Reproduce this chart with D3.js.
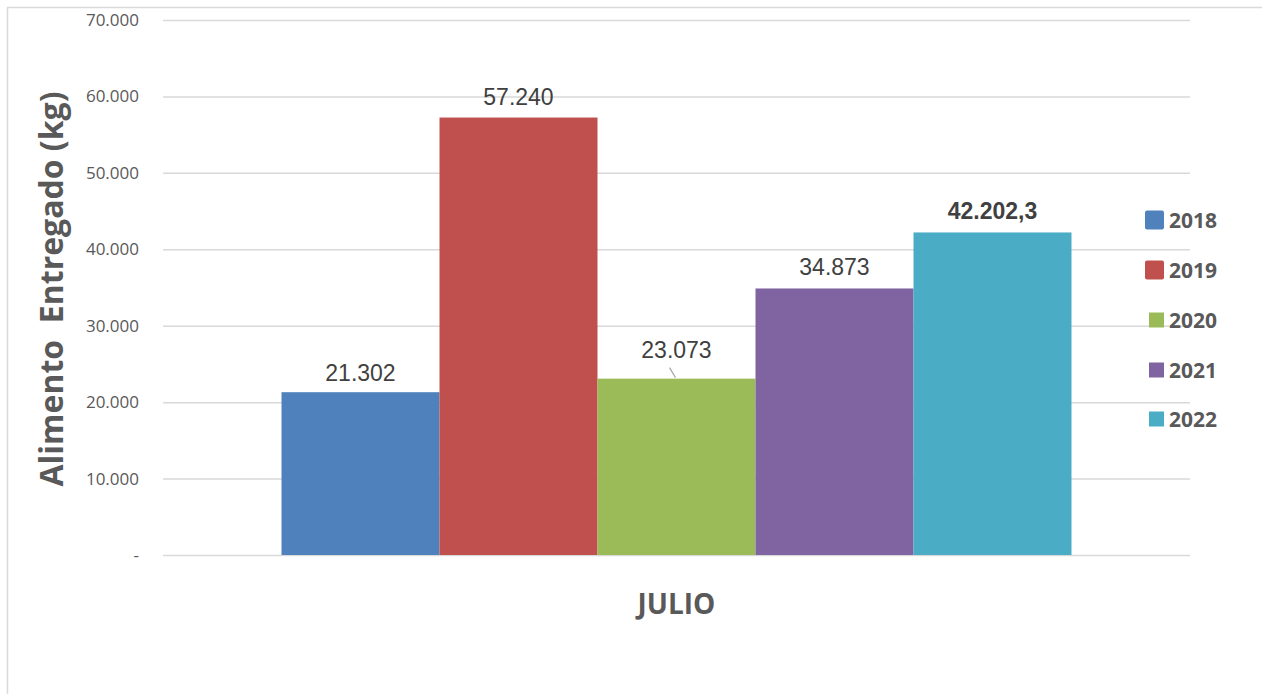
<!DOCTYPE html>
<html>
<head>
<meta charset="utf-8">
<script src="https://cdn.jsdelivr.net/npm/d3@7"></script>
<style>
  body { margin: 0; background: #fff; }
  svg { display: block; }
</style>
</head>
<body>
<div id="graphics"></div>
<script>
// data
var categories = ["JULIO"];
var years = ["2018", "2019", "2020", "2021", "2022"];
var values = [21302, 57240, 23073, 34873, 42202.3];
var valueLabels = ["21.302", "57.240", "23.073", "34.873", "42.202,3"];
var colors = ["#4f81bd", "#c0504d", "#9bbb59", "#8064a2", "#4bacc6"];
var yTicks = [0, 10000, 20000, 30000, 40000, 50000, 60000, 70000];

var w = 1262, h = 694;

var svg = d3.select("#graphics")
  .append("svg")
  .attr("width", w)
  .attr("height", h);

// chart border (only top and left visible)
svg.append("rect")
  .attr("x", 7.5).attr("y", 7.5)
  .attr("width", 1300).attr("height", 800)
  .attr("fill", "none")
  .attr("stroke", "#d9d9d9")
  .attr("stroke-width", 1.5);

var y = d3.scaleLinear().domain([0, 70000]).range([555, 20]);

var x0 = d3.scaleBand()
  .domain(categories)
  .range([163, 1190])
  .paddingOuter(0.15)
  .paddingInner(0);

var x1 = d3.scaleBand()
  .domain(years)
  .range([0, x0.bandwidth()]);

var fmt = function(d) {
  if (d === 0) return "-";
  return d3.format(",")(d).replace(/,/g, ".");
};

// grid lines + tick labels
var yAxis = svg.append("g")
  .attr("transform", "translate(163,0)")
  .call(d3.axisLeft(y).tickValues(yTicks).tickSize(-(1190 - 163)).tickFormat(fmt).tickPadding(24));
yAxis.select(".domain").remove();
yAxis.selectAll(".tick line").attr("stroke", "#d9d9d9").attr("stroke-width", 1.5);
yAxis.selectAll(".tick text")
  .attr("fill", "#595959")
  .attr("font-family", "'Open Sans', sans-serif")
  .attr("font-size", "17px");

// bars
var group = svg.append("g")
  .attr("transform", "translate(" + x0("JULIO") + ",0)");

group.selectAll("rect")
  .data(values)
  .enter()
  .append("rect")
  .attr("x", function(d, i) { return x1(years[i]); })
  .attr("y", function(d) { return y(d); })
  .attr("width", x1.bandwidth())
  .attr("height", function(d) { return y(0) - y(d); })
  .attr("fill", function(d, i) { return colors[i]; });

// leader line for 2020 label
group.append("line")
  .attr("x1", x1("2020") + x1.bandwidth() / 2 - 7)
  .attr("y1", y(values[2]) - 11)
  .attr("x2", x1("2020") + x1.bandwidth() / 2 - 1)
  .attr("y2", y(values[2]) - 1)
  .attr("stroke", "#a6a6a6")
  .attr("stroke-width", 1.2);

var labelOffsets = [11, 13, 21, 13, 13];

group.selectAll("text.val")
  .data(values)
  .enter()
  .append("text")
  .attr("class", "val")
  .text(function(d, i) { return valueLabels[i]; })
  .attr("text-anchor", "middle")
  .attr("x", function(d, i) { return x1(years[i]) + x1.bandwidth() / 2; })
  .attr("y", function(d, i) { return y(d) - labelOffsets[i]; })
  .attr("font-family", "Arial, 'Liberation Sans', sans-serif")
  .attr("font-size", "23px")
  .attr("font-weight", function(d, i) { return i === 4 ? "bold" : "normal"; })
  .attr("fill", "#404040");

// x category label
svg.append("text")
  .text(categories[0])
  .attr("x", x0("JULIO") + x0.bandwidth() / 2)
  .attr("y", 614)
  .attr("text-anchor", "middle")
  .attr("font-family", "'Open Sans', sans-serif")
  .attr("font-weight", "bold")
  .attr("font-size", "28px")
  .attr("fill", "#595959");

// y axis title
svg.append("text")
  .text("Alimento  Entregado (kg)")
  .attr("transform", "translate(63,289) rotate(-90)")
  .attr("text-anchor", "middle")
  .attr("font-family", "'Open Sans', sans-serif")
  .attr("font-weight", "bold")
  .attr("font-size", "32px")
  .style("white-space", "pre")
  .attr("fill", "#595959");

// legend
var legend = svg.append("g");
var legendSizes = [19, 19, 15, 15, 15];
var legendY = [220, 270, 320, 370, 419];

legend.selectAll("rect")
  .data(years)
  .enter()
  .append("rect")
  .attr("x", function(d, i) { return 1164 - legendSizes[i]; })
  .attr("y", function(d, i) { return legendY[i] - legendSizes[i] / 2; })
  .attr("width", function(d, i) { return legendSizes[i]; })
  .attr("height", function(d, i) { return legendSizes[i]; })
  .attr("rx", function(d, i) { return i < 2 ? 2 : 0; })
  .attr("fill", function(d, i) { return colors[i]; });

legend.selectAll("text")
  .data(years)
  .enter()
  .append("text")
  .text(function(d) { return d; })
  .attr("x", 1169)
  .attr("y", function(d, i) { return legendY[i]; })
  .attr("dy", "0.36em")
  .attr("font-family", "'Open Sans', sans-serif")
  .attr("font-weight", "bold")
  .attr("font-size", "21px")
  .attr("fill", "#595959");
</script>
</body>
</html>
